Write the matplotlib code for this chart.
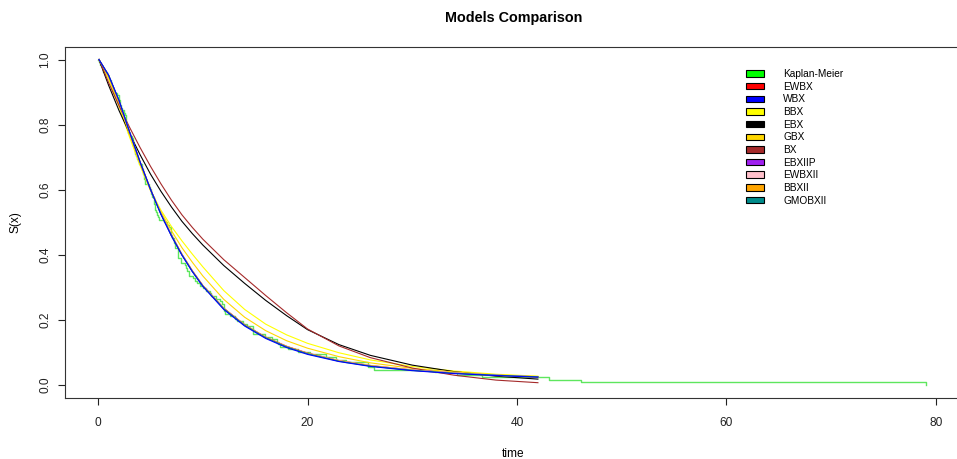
"""Survival model comparison: Kaplan-Meier estimate against fitted model curves."""

import matplotlib
matplotlib.use("Agg")
import matplotlib.pyplot as plt
import numpy as np
from matplotlib.patches import Patch

# remission times (months) behind the Kaplan-Meier step curve
REMISSION = [
    0.08, 2.09, 3.48, 4.87, 6.94, 8.66, 13.11, 23.63, 0.20, 2.23, 3.52, 4.98, 6.97, 9.02, 13.29,
    0.40, 2.26, 3.57, 5.06, 7.09, 9.22, 13.80, 25.74, 0.50, 2.46, 3.64, 5.09, 7.26, 9.47, 14.24,
    25.82, 0.51, 2.54, 3.70, 5.17, 7.28, 9.74, 14.76, 26.31, 0.81, 2.62, 3.82, 5.32, 7.32, 10.06,
    14.77, 32.15, 2.64, 3.88, 5.32, 7.39, 10.34, 14.83, 34.26, 0.90, 2.69, 4.18, 5.34, 7.59, 10.66,
    15.96, 36.66, 1.05, 2.69, 4.23, 5.41, 7.62, 10.75, 16.62, 43.01, 1.19, 2.75, 4.26, 5.41, 7.63,
    17.12, 46.12, 1.26, 2.83, 4.33, 5.49, 7.66, 11.25, 17.14, 79.05, 1.35, 2.87, 5.62, 7.87, 11.64,
    17.36, 1.40, 3.02, 4.34, 5.71, 7.93, 11.79, 18.10, 1.46, 4.40, 5.85, 8.26, 11.98, 19.13, 1.76,
    3.25, 4.50, 6.25, 8.37, 12.02, 2.02, 3.31, 4.51, 6.54, 8.53, 12.03, 20.28, 2.02, 3.36, 6.76,
    12.07, 21.73, 2.07, 3.36, 6.93, 8.65, 12.63, 22.69,
]

TIME = [0.08, 1, 2, 3, 4, 5, 6, 7, 8, 9, 10, 12, 14, 16, 18, 20, 23, 26, 30, 34, 38, 42]

EWBX = [1.0, 0.950, 0.872, 0.777, 0.686, 0.602, 0.527, 0.461, 0.402, 0.351, 0.306, 0.236,
        0.185, 0.147, 0.119, 0.098, 0.075, 0.060, 0.046, 0.037, 0.030, 0.025]
WBX = [1.0, 0.952, 0.874, 0.778, 0.686, 0.601, 0.524, 0.458, 0.399, 0.348, 0.303, 0.232,
       0.181, 0.143, 0.115, 0.094, 0.072, 0.057, 0.044, 0.035, 0.029, 0.024]
BBX = [1.0, 0.940, 0.855, 0.762, 0.675, 0.597, 0.537, 0.487, 0.443, 0.402, 0.363, 0.290,
       0.232, 0.187, 0.154, 0.128, 0.099, 0.077, 0.057, 0.043, 0.033, 0.027]
EBX = [1.0, 0.921, 0.843, 0.773, 0.708, 0.648, 0.595, 0.547, 0.503, 0.465, 0.430, 0.367,
       0.312, 0.260, 0.213, 0.170, 0.124, 0.091, 0.061, 0.041, 0.027, 0.018]
GBX = [1.0, 0.946, 0.864, 0.770, 0.680, 0.600, 0.532, 0.474, 0.422, 0.377, 0.335, 0.263,
       0.208, 0.167, 0.136, 0.113, 0.087, 0.068, 0.051, 0.040, 0.031, 0.026]
BX = [1.0, 0.929, 0.858, 0.792, 0.730, 0.672, 0.618, 0.568, 0.523, 0.484, 0.448, 0.385,
      0.330, 0.275, 0.222, 0.172, 0.120, 0.084, 0.052, 0.030, 0.015, 0.007]
EBXIIP = [1.0, 0.951, 0.873, 0.777, 0.685, 0.601, 0.526, 0.460, 0.401, 0.350, 0.305, 0.235,
          0.184, 0.146, 0.118, 0.097, 0.074, 0.059, 0.046, 0.037, 0.030, 0.025]
EWBXII = [1.0, 0.952, 0.873, 0.778, 0.687, 0.602, 0.527, 0.461, 0.402, 0.351, 0.306, 0.235,
          0.184, 0.146, 0.118, 0.097, 0.075, 0.060, 0.046, 0.037, 0.030, 0.025]
BBXII = [1.0, 0.950, 0.871, 0.776, 0.685, 0.601, 0.526, 0.460, 0.401, 0.350, 0.305, 0.235,
         0.184, 0.146, 0.118, 0.097, 0.074, 0.059, 0.045, 0.036, 0.029, 0.024]
GMOBXII = [1.0, 0.952, 0.874, 0.778, 0.686, 0.601, 0.525, 0.459, 0.400, 0.349, 0.304, 0.234,
           0.183, 0.145, 0.117, 0.096, 0.073, 0.058, 0.045, 0.036, 0.030, 0.025]

MODELS = {
    "EWBX": (EWBX, "#FF0000"),
    "WBX": (WBX, "#0000FF"),
    "BBX": (BBX, "#FFFF00"),
    "EBX": (EBX, "#000000"),
    "GBX": (GBX, "#FFD700"),
    "BX": (BX, "#A52A2A"),
    "EBXIIP": (EBXIIP, "#A020F0"),
    "EWBXII": (EWBXII, "#FFC0CB"),
    "BBXII": (BBXII, "#FFA500"),
    "GMOBXII": (GMOBXII, "#008B8B"),
}
KM_COLOR = "#00FF00"


def kaplan_meier(times):
    values, deaths = np.unique(np.asarray(times), return_counts=True)
    at_risk = len(times) - np.concatenate([[0], np.cumsum(deaths)[:-1]])
    surv = np.cumprod(1.0 - deaths / at_risk)
    return np.concatenate([[0.0], values]), np.concatenate([[1.0], surv])


def main():
    plt.rcParams["font.family"] = ["Liberation Sans", "DejaVu Sans"]
    fig = plt.figure(figsize=(9.57, 4.59), dpi=100)
    ax = fig.add_axes([65 / 957, 61 / 459, 897 / 957, 351.5 / 459])

    km_t, km_s = kaplan_meier(REMISSION)
    ax.step(km_t, km_s, where="post", color="#5ee65e", linewidth=1.0, zorder=2)

    for name, (values, color) in MODELS.items():
        # the blue WBX curve sits on top of the cluster in the original
        z = 4 if name == "WBX" else 3
        ax.plot(TIME, values, color=color, linewidth=0.8, zorder=z)

    ax.set_xlim(-3.162, 82.21 + 3 / 10.46)
    ax.set_ylim(-0.04, 1.04)
    ax.set_xticks([0, 20, 40, 60, 80])
    ax.set_yticks([0.0, 0.2, 0.4, 0.6, 0.8, 1.0])
    ax.set_yticklabels(["0.0", "0.2", "0.4", "0.6", "0.8", "1.0"], rotation=90, va="center")
    ax.tick_params(direction="out", length=5, width=0.8, labelsize=8.6, colors="#222222", pad=5)
    ax.tick_params(axis="x", pad=8.5)
    for spine in ax.spines.values():
        spine.set_linewidth(0.8)
        spine.set_color("#333333")

    ax.set_xlabel("time", fontsize=8.6, labelpad=14)
    ax.set_ylabel("S(x)", fontsize=8.6, labelpad=13)
    ax.set_title("Models Comparison", fontsize=10.4, fontweight="bold", pad=17.5)

    handles = [Patch(facecolor=KM_COLOR, edgecolor="black", linewidth=0.8, label="Kaplan-Meier")]
    handles += [Patch(facecolor=c, edgecolor="black", linewidth=0.8, label=n) for n, (_, c) in MODELS.items()]
    ax.legend(handles=handles, loc="upper left", bbox_to_anchor=(0.755, 0.947), frameon=False,
              fontsize=7.3, handlelength=1.75, handleheight=0.6, handletextpad=1.9,
              labelspacing=0.26, borderaxespad=0)

    fig.savefig("out.png", dpi=100)


if __name__ == "__main__":
    main()
